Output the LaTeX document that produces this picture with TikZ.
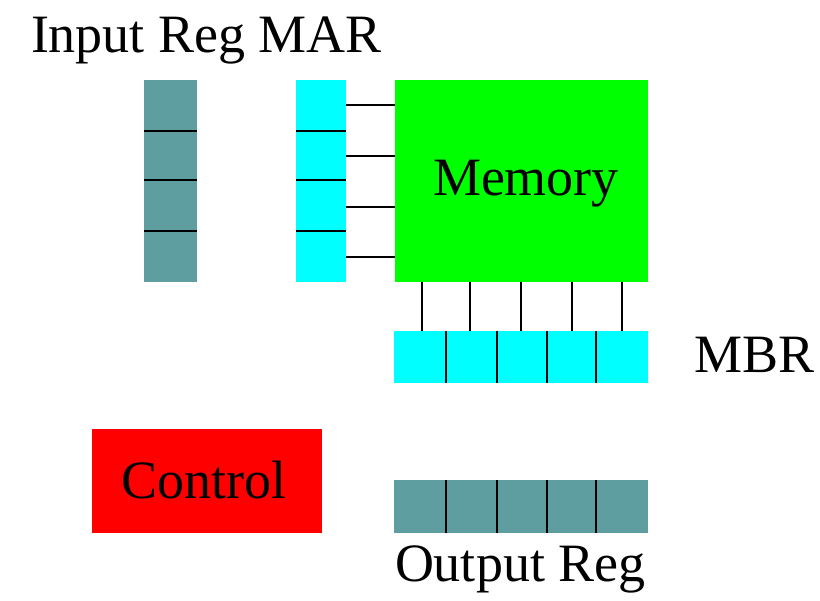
\documentclass[tikz,border=0pt]{standalone}
\usepackage{fontspec}
\setmainfont{Liberation Serif}
\definecolor{cadet}{RGB}{95,158,160}
\definecolor{regcyan}{RGB}{0,255,255}
\definecolor{memgreen}{RGB}{0,255,0}
\definecolor{ctlred}{RGB}{255,0,0}
\begin{document}
\begin{tikzpicture}[x=1pt,y=-1pt,
  box/.style={draw=none,inner sep=0pt,outer sep=0pt,anchor=north west},
  wire/.style={line width=2pt,black},
  lbl/.style={inner sep=0pt,outer sep=0pt,anchor=base west,font=\fontsize{54}{60}\selectfont}]
\useasboundingbox (0,0) rectangle (820,601);
\fill[white] (0,0) rectangle (820,601);
% boxes
\node[box,fill=cadet,minimum width=53pt,minimum height=202pt] (inreg) at (144,80) {};
\node[box,fill=regcyan,minimum width=50pt,minimum height=202pt] (mar) at (296,80) {};
\node[box,fill=memgreen,minimum width=253pt,minimum height=202pt] (mem) at (395,80) {};
\node[box,fill=regcyan,minimum width=254pt,minimum height=52pt] (mbr) at (394,331) {};
\node[box,fill=ctlred,minimum width=230pt,minimum height=104pt] (ctl) at (92,429) {};
\node[box,fill=cadet,minimum width=254pt,minimum height=53pt] (outreg) at (394,480) {};
% register dividers
\foreach \yy in {131,180,231} {
  \draw[wire] (inreg.west |- 0,\yy) -- (inreg.east |- 0,\yy);
  \draw[wire] (mar.west |- 0,\yy) -- (mar.east |- 0,\yy);
}
\foreach \xx in {446,497,547,596} {
  \draw[wire] (\xx,0 |- mbr.north) -- (\xx,0 |- mbr.south);
  \draw[wire] (\xx,0 |- outreg.north) -- (\xx,0 |- outreg.south);
}
% MAR to memory
\foreach \yy in {105,156,207,257} {
  \draw[wire] (mar.east |- 0,\yy) -- (mem.west |- 0,\yy);
}
% memory to MBR
\foreach \xx in {422,470,521,572,622} {
  \draw[wire] (\xx,0 |- mem.south) -- (\xx,0 |- mbr.north);
}
% labels
\node[lbl] (tin) at (31,53) {Input Reg MAR};
\node[lbl] (tmem) at (433,196) {Memory};
\node[lbl] (tctl) at (121,499) {Control};
\node[lbl] (tmbr) at (694,373) {MBR};
\node[lbl] (tout) at (395,582) {Output Reg};
\end{tikzpicture}
\end{document}
